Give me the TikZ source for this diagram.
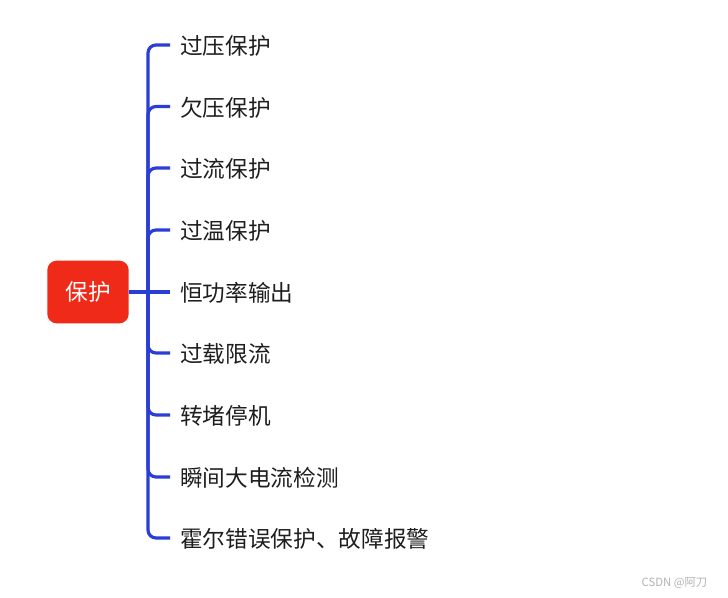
\documentclass[tikz,border=0pt]{standalone}
\usepackage{fontspec}
\newfontfamily\cjk{Noto Sans CJK SC}
\definecolor{rootred}{RGB}{240, 42, 24}
\definecolor{branchblue}{RGB}{42, 62, 214}
\definecolor{leaftext}{RGB}{30, 30, 30}
\usepackage{tikz}

\begin{document}
\begin{tikzpicture}[x=0.75pt, y=-0.75pt,
        root/.style={fill=rootred, text=white, rounded corners=7pt, minimum width=61pt, minimum height=47pt, font=\cjk\fontsize{17}{20}\selectfont},
        leaf/.style={anchor=west, inner xsep=7.5pt, inner ysep=0pt, text=leaftext, text depth=0pt, font=\cjk\fontsize{17}{20}\selectfont},
        branch/.style={draw=branchblue, line width=2.4pt, rounded corners=6pt}
      ]
        \useasboundingbox (0,0) rectangle (728,597);
        \node[root] (root) at (88,292) {保护};
        \coordinate (hub) at (148,292);
        \node[leaf] (overvolt) at (170,45) {过压保护};
        \node[leaf] (undervolt) at (170,106.5) {欠压保护};
        \node[leaf] (overcurr) at (170,168) {过流保护};
        \node[leaf] (overtemp) at (170,230) {过温保护};
        \node[leaf] (constpow) at (170,292) {恒功率输出};
        \node[leaf] (overload) at (170,353) {过载限流};
        \node[leaf] (stall) at (170,415) {转堵停机};
        \node[leaf] (surge) at (170,477) {瞬间大电流检测};
        \node[leaf] (hall) at (170,538) {霍尔错误保护、故障报警};
        \draw[branch] (root.east) -- (hub);
        \draw[branch] (hub) |- (overvolt.west);
        \draw[branch] (hub) |- (undervolt.west);
        \draw[branch] (hub) |- (overcurr.west);
        \draw[branch] (hub) |- (overtemp.west);
        \draw[branch] (hub) -- (constpow.west);
        \draw[branch] (hub) |- (overload.west);
        \draw[branch] (hub) |- (stall.west);
        \draw[branch] (hub) |- (surge.west);
        \draw[branch] (hub) |- (hall.west);
        \node[text=black!30, font=\cjk\fontsize{8.5}{10}\selectfont, anchor=east] (mark) at (712,583) {CSDN @阿刀};
      \end{tikzpicture}
\end{document}
